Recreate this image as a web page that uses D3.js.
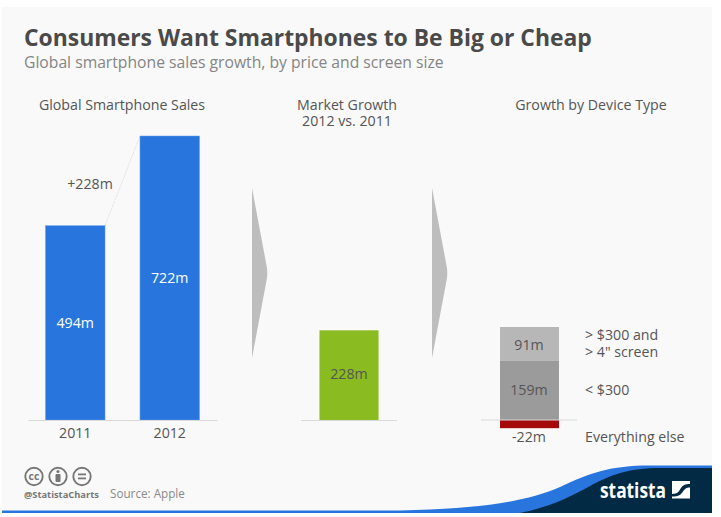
<!DOCTYPE html>
<html><head><meta charset="utf-8">
<script src="https://cdn.jsdelivr.net/npm/d3@7"></script>
<style>html,body{margin:0;padding:0;background:#fff}svg{display:block}text{font-family:"Open Sans",sans-serif}</style>
</head><body><div id="c"></div>
<script>
const years = ["2011","2012"];
const sales = [494,722];
const salesLabels = ["494m","722m"];
const growthCategory = ["Growth"];
const growthValue = [228];
const deviceTypes = ["> $300 and > 4\" screen","< $300","Everything else"];
const deviceValues = [91,159,-22];
const deviceLabels = ["91m","159m","-22m"];
const title = "Consumers Want Smartphones to Be Big or Cheap";
const subtitle = "Global smartphone sales growth, by price and screen size";

const svg = d3.select("#c").append("svg").attr("width",721).attr("height",517);
svg.append("rect").attr("x",2).attr("y",7).attr("width",710).attr("height",506).attr("fill","#f9f9f9");
const T=(x,y,s,o={})=>svg.append("text").attr("x",x).attr("y",y).text(s)
  .attr("font-size",o.size||14.2).attr("fill",o.fill||"#555").attr("font-weight",o.weight||400)
  .attr("text-anchor",o.anchor||"start");

T(24,46,title,{size:22.9,weight:700,fill:"#4a4a4a"});
T(24,68,subtitle,{size:15.7,fill:"#858585"});
T(122,110,"Global Smartphone Sales",{anchor:"middle"});
T(347,110,"Market Growth",{anchor:"middle"});
T(347,126,"2012 vs. 2011",{anchor:"middle"});
T(591,110,"Growth by Device Type",{anchor:"middle"});

const base=420;
const y=d3.scaleLinear().domain([0,722]).range([base,136]);
const yStack=d3.scaleLinear().domain([0,250]).range([base,327]);
const x1=d3.scaleBand().domain(years).range([28,217]).paddingInner(0.37).paddingOuter(0.185);
const x2=d3.scaleBand().domain(growthCategory).range([301,397]).paddingInner(0.385).paddingOuter(0.1925);
const stackX=500,stackW=59;

// connector
svg.append("line").attr("x1",x1("2011")+x1.bandwidth()).attr("y1",y(494))
  .attr("x2",x1("2012")).attr("y2",y(722)).attr("stroke","#d8d8d8").attr("stroke-width",.8).attr("stroke-dasharray","1.5 1");

// arrows
[252,432].forEach(ax=>svg.append("path").attr("d",`M${ax},188L${ax+15},268Q${ax+15.5},273 ${ax+15},278L${ax},358Z`).attr("fill","#bdbdbd"));

// panel 1
svg.selectAll(".b1").data(years).join("rect").attr("class","b1")
  .attr("x",d=>x1(d)).attr("width",x1.bandwidth())
  .attr("y",(d,i)=>y(sales[i])).attr("height",(d,i)=>base-y(sales[i]))
  .attr("fill","#2876dd").attr("stroke","#6a9fe6").attr("stroke-width",.5);
years.forEach((d,i)=>T(x1(d)+x1.bandwidth()/2,(y(sales[i])+base)/2+5,salesLabels[i],{anchor:"middle",fill:"#fff"}));
T(90,189,"+228m",{anchor:"middle"});
const ax=d3.axisBottom(x1).tickSize(0).tickPadding(8);
const gx=svg.append("g").attr("transform",`translate(0,${base})`).call(ax);
gx.select(".domain").attr("stroke","#d9d9d9").attr("stroke-width",1.2);
gx.selectAll("text").attr("font-size",14.2).attr("fill","#555").attr("font-family",'"Open Sans",sans-serif');

// panel 2
svg.selectAll(".b2").data(growthCategory).join("rect").attr("class","b2")
  .attr("x",d=>x2(d)).attr("width",x2.bandwidth())
  .attr("y",y(growthValue[0])).attr("height",base-y(growthValue[0])).attr("fill","#8abb21");
T(349,379,"228m",{anchor:"middle"});
svg.append("line").attr("x1",301).attr("x2",397).attr("y1",base+.5).attr("y2",base+.5).attr("stroke","#d9d9d9").attr("stroke-width",1.2);

// panel 3
const stackColors=["#b7b7b7","#9b9b9b","#a50a0a"];
let pos=0;
const spans=deviceValues.map(v=>({v}));
[1,0].forEach(i=>{spans[i].y0=pos;spans[i].y1=pos+deviceValues[i];pos+=deviceValues[i];});
spans[2].y0=0;spans[2].y1=deviceValues[2];
svg.selectAll(".b3").data(spans).join("rect").attr("class","b3")
  .attr("x",stackX).attr("width",stackW)
  .attr("y",d=>Math.min(yStack(d.y0),yStack(d.y1)))
  .attr("height",d=>Math.abs(yStack(d.y0)-yStack(d.y1)))
  .attr("fill",(d,i)=>stackColors[i]);
svg.append("line").attr("x1",481).attr("x2",577).attr("y1",base).attr("y2",base).attr("stroke","#d9d9d9").attr("stroke-width",1.2);
T(529,350,deviceLabels[0],{anchor:"middle"});
T(529,395,deviceLabels[1],{anchor:"middle"});
T(529,442,deviceLabels[2],{anchor:"middle"});
T(585,340,"> $300 and");
T(585,357,"> 4\" screen");
T(585,395,"< $300");
T(585,442,"Everything else");

// footer
[34,58,82].forEach(cx=>{
  svg.append("circle").attr("cx",cx).attr("cy",476.5).attr("r",8.7).attr("fill","none").attr("stroke","#777").attr("stroke-width",1.9);
});
T(34,480,"cc",{anchor:"middle",size:10.5,weight:700,fill:"#777"});
svg.append("circle").attr("cx",58).attr("cy",471.5).attr("r",1.6).attr("fill","#777");
svg.append("rect").attr("x",55.5).attr("y",474).attr("width",5).attr("height",8).attr("rx",1).attr("fill","#777");
svg.append("rect").attr("x",78).attr("y",473.5).attr("width",8).attr("height",1.8).attr("fill","#777");
svg.append("rect").attr("x",78).attr("y",477.5).attr("width",8).attr("height",1.8).attr("fill","#777");
T(24,498,"@StatistaCharts",{size:9.3,weight:700,fill:"#777"});
T(110,498,"Source: Apple",{size:11.7,fill:"#8a8a8a"});

svg.append("path").attr("d","M2,510.5L400,510.5C470,509 520,504 560,487C590,473 610,465.5 650,465.5L712,465.5L712,513L2,513Z").attr("fill","#2876dd");
svg.append("path").attr("d","M520,513C550,507 570,497 590,486C612,474 630,468 660,468L712,468L712,513Z").attr("fill","#032a44");
T(600,498,"statista",{size:21,weight:700,fill:"#fff"}).attr("textLength",66).attr("lengthAdjust","spacingAndGlyphs");
svg.append("rect").attr("x",672).attr("y",481).attr("width",18).attr("height",17.5).attr("fill","#fff");
svg.append("path").attr("d","M672,494C678,494 679,491 681,488C683,485 685,484 690,484V487.5C686,487.5 685,489 683,491.5C681,494.5 679,496.5 672,496.5Z").attr("fill","#032a44");
</script></body></html>
